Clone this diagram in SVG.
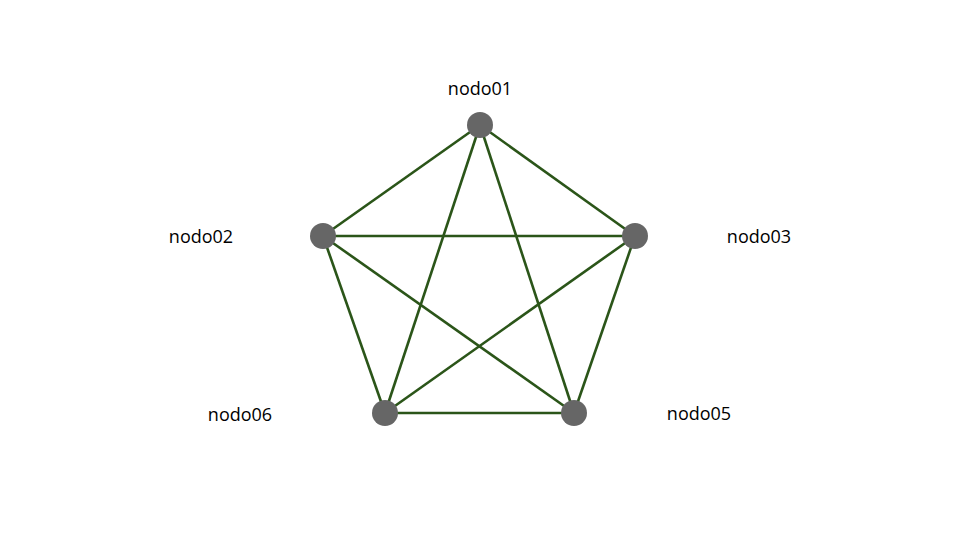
<svg xmlns="http://www.w3.org/2000/svg" width="960" height="540" viewBox="0 0 960 540">
<style>
.e{stroke:#2B5519;stroke-width:2.6;fill:none}
.n{fill:#666666}
.t{font-family:"Open Sans","Liberation Sans",sans-serif;font-size:18px;fill:#000;text-anchor:middle}
</style>
<rect width="960" height="540" fill="#fff"/>
<g id="edges">
<line class="e" x1="480" y1="125" x2="323" y2="236"/>
<line class="e" x1="480" y1="125" x2="635" y2="236"/>
<line class="e" x1="480" y1="125" x2="385" y2="413"/>
<line class="e" x1="480" y1="125" x2="574" y2="413"/>
<line class="e" x1="323" y1="236" x2="635" y2="236"/>
<line class="e" x1="323" y1="236" x2="385" y2="413"/>
<line class="e" x1="323" y1="236" x2="574" y2="413"/>
<line class="e" x1="635" y1="236" x2="385" y2="413"/>
<line class="e" x1="635" y1="236" x2="574" y2="413"/>
<line class="e" x1="385" y1="413" x2="574" y2="413"/>
</g>
<g id="nodo01"><circle class="n" cx="480" cy="125" r="13"/><text class="t" x="480" y="95">nodo01</text></g>
<g id="nodo02"><circle class="n" cx="323" cy="236" r="13"/><text class="t" x="201" y="243">nodo02</text></g>
<g id="nodo03"><circle class="n" cx="635" cy="236" r="13"/><text class="t" x="759" y="243">nodo03</text></g>
<g id="nodo05"><circle class="n" cx="574" cy="413" r="13"/><text class="t" x="699" y="420">nodo05</text></g>
<g id="nodo06"><circle class="n" cx="385" cy="413" r="13"/><text class="t" x="240" y="421">nodo06</text></g>
</svg>
